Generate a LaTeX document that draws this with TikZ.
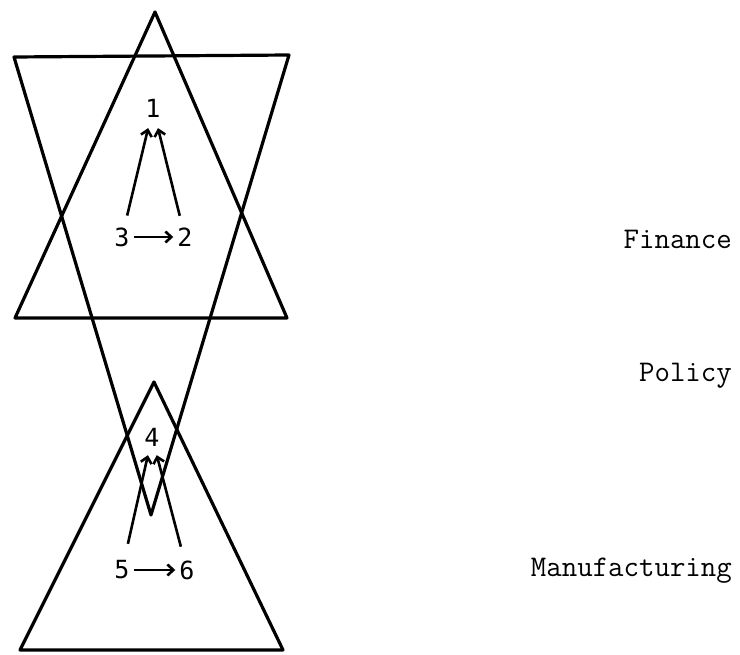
\documentclass[tikz,border=0pt]{standalone}
\usepackage{fontspec}
\newfontfamily\digitfont{DejaVu Sans Mono}
\usetikzlibrary{arrows.meta}

\begin{document}
\begin{tikzpicture}[x=1pt, y=-1pt, >={Straight Barb[length=6pt,width=11pt]},
    side/.style={line width=3.2pt, line join=round},
    num/.style={font=\digitfont\fontsize{25}{28}\selectfont, inner sep=4pt},
    sector/.style={font=\ttfamily\fontsize{30}{34}\selectfont, anchor=base east, inner sep=0pt},
    link/.style={->, line width=2.6pt},
    rise/.style={link, shorten <=8pt, shorten >=7pt}]
    \useasboundingbox (0,0) rectangle (740,655);

    % Triangles
    \draw[side] (155,12) -- (15,318) -- (287,318) -- cycle;
    \draw[side] (14,57) -- (289,55) -- (151,515) -- cycle;
    \draw[side] (154,382) -- (20,650) -- (283,650) -- cycle;

    % Upper group
    \node[num] (N1) at (153,108) {1};
    \node[num] (N3) at (122,237) {3};
    \node[num] (N2) at (185,237) {2};

    % Lower group
    \node[num] (N4) at (152,437) {4};
    \node[num] (N5) at (122,570) {5};
    \node[num] (N6) at (187,570) {6};

    % Sector labels
    \node[sector] (FIN) at (732,249) {Finance};
    \node[sector] (POL) at (732,382) {Policy};
    \node[sector] (MAN) at (732,576) {Manufacturing};

    % Arrows
    \draw[rise] (N3) -- (N1);
    \draw[rise] (N2) -- (N1);
    \draw[link] (N3) -- (N2);

    \draw[rise, shorten <=13pt, shorten >=5pt] (N5) -- (N4);
    \draw[rise, shorten <=10pt, shorten >=5pt] (N6) -- (N4);
    \draw[link] (N5) -- (N6);
\end{tikzpicture}
\end{document}
